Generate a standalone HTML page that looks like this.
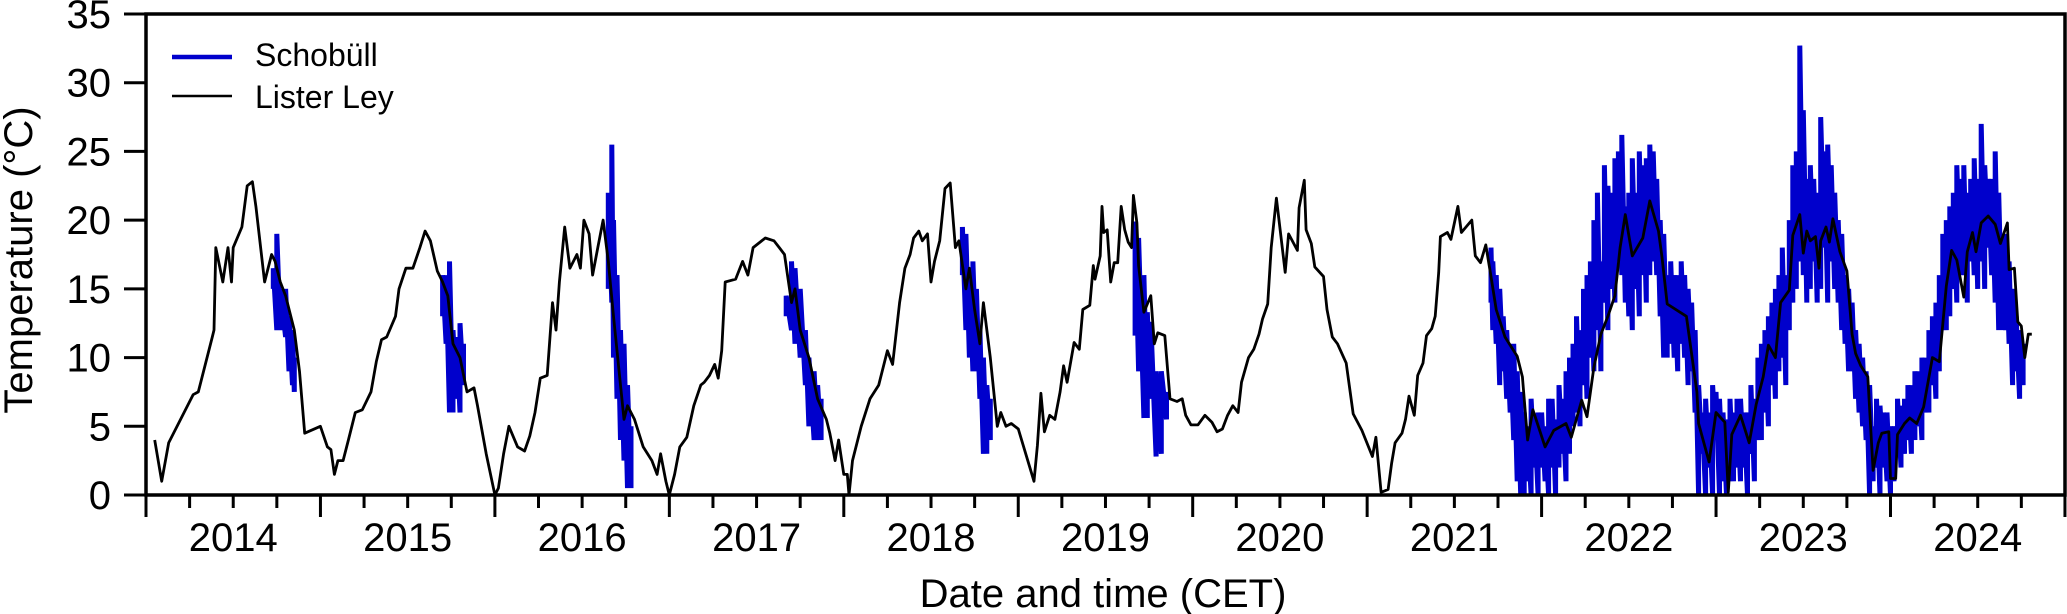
<!DOCTYPE html>
<html><head><meta charset="utf-8"><title>Temperature chart</title>
<style>
html,body{margin:0;padding:0;background:#fff;}
svg{display:block;font-family:"Liberation Sans",Arial,sans-serif;}
</style></head>
<body>
<svg id="chart" width="2067" height="614" viewBox="0 0 2067 614" xmlns="http://www.w3.org/2000/svg">
  <g id="schobuell-series"></g>
  <g id="lister-series"></g>
  <g id="axes"></g>
  <rect x="146" y="14" width="1919" height="481" fill="none" stroke="#000" stroke-width="3.5"/>
  <text transform="translate(32,260) rotate(-90)" text-anchor="middle" font-size="40">Temperature (°C)</text>
  <text x="1103" y="607" text-anchor="middle" font-size="40">Date and time (CET)</text>
  <g>
    <line x1="172" y1="57" x2="232" y2="57" stroke="#0000cc" stroke-width="4.5"/>
    <text x="255" y="66" font-size="32">Schobüll</text>
    <line x1="172" y1="96" x2="232" y2="96" stroke="#000" stroke-width="2.5"/>
    <text x="255" y="108" font-size="32">Lister Ley</text>
  </g>
</svg>
<script>
const yTicks = [0,5,10,15,20,25,30,35];
const years = [2014,2015,2016,2017,2018,2019,2020,2021,2022,2023,2024];

const listerT = [2014.05,2014.09,2014.13,2014.27,2014.3,2014.38,2014.39,2014.40,2014.44,2014.47,2014.49,2014.5,2014.55,2014.58,2014.61,2014.63,2014.68,2014.72,2014.74,2014.77,2014.8,2014.85,2014.88,2014.91,2015.0,2015.04,2015.06,2015.08,2015.1,2015.13,2015.16,2015.2,2015.24,2015.29,2015.32,2015.35,2015.38,2015.43,2015.45,2015.49,2015.53,2015.57,2015.6,2015.63,2015.67,2015.7,2015.73,2015.76,2015.8,2015.84,2015.88,2015.9,2015.95,2016.0,
2016.02,2016.05,2016.08,2016.13,2016.17,2016.2,2016.23,2016.26,2016.3,2016.33,2016.35,2016.37,2016.4,2016.43,2016.47,2016.49,2016.51,2016.54,2016.56,2016.59,2016.62,2016.65,2016.68,2016.72,2016.74,2016.76,2016.8,2016.85,2016.9,2016.93,2016.95,2016.98,2017.0,
2017.03,2017.06,2017.1,2017.14,2017.18,2017.2,2017.23,2017.26,2017.28,2017.3,2017.32,2017.38,2017.42,2017.45,2017.48,2017.55,2017.6,2017.63,2017.66,2017.7,2017.72,2017.75,2017.8,2017.85,2017.9,2017.92,2017.95,2017.97,2018.0,2018.02,2018.03,
2018.05,2018.1,2018.15,2018.2,2018.25,2018.28,2018.32,2018.35,2018.38,2018.4,2018.43,2018.45,2018.48,2018.5,2018.52,2018.55,2018.58,2018.61,2018.64,2018.66,2018.7,2018.72,2018.75,2018.78,2018.8,2018.84,2018.88,2018.9,2018.93,2018.96,2019.0,
2019.09,2019.11,2019.13,2019.15,2019.18,2019.21,2019.24,2019.26,2019.28,2019.32,2019.35,2019.37,2019.41,2019.43,2019.44,2019.47,2019.48,2019.49,2019.51,2019.53,2019.55,2019.57,2019.59,2019.61,2019.63,2019.65,2019.66,2019.68,2019.69,2019.72,2019.76,2019.78,2019.8,2019.84,2019.87,2019.91,2019.94,2019.96,2019.99,2020.03,2020.07,2020.11,2020.14,2020.17,2020.2,2020.23,2020.26,2020.28,2020.32,2020.35,2020.38,2020.4,2020.43,
2020.45,2020.48,2020.53,2020.55,2020.6,2020.61,2020.64,2020.65,2020.68,2020.7,2020.75,2020.77,2020.8,2020.83,2020.88,2020.92,2020.97,2021.03,2021.05,2021.08,2021.12,2021.14,2021.16,2021.2,2021.22,2021.24,2021.27,2021.29,2021.32,2021.34,2021.37,2021.39,2021.41,2021.42,2021.46,2021.48,2021.52,2021.54,2021.6,2021.62,2021.65,2021.68,2021.71,2021.74,2021.79,2021.86,2021.89,2021.92,2021.95,2022.02,2022.07,2022.14,2022.17,2022.23,2022.26,2022.3,
2022.34,2022.38,2022.42,2022.45,2022.48,2022.52,2022.58,2022.62,2022.67,2022.69,2022.72,2022.83,2022.89,2022.9,2022.96,2023.0,2023.05,2023.07,2023.09,2023.14,2023.19,2023.23,2023.27,2023.3,2023.34,2023.37,2023.42,2023.44,2023.48,2023.5,2023.52,2023.54,2023.57,2023.59,2023.6,2023.63,2023.65,2023.67,2023.71,2023.75,2023.78,2023.8,2023.83,2023.87,2023.9,2023.93,2023.95,2023.99,2024.0,2024.03,2024.04,2024.08,2024.11,2024.15,2024.19,2024.24,2024.28,2024.32,2024.35,2024.38,2024.42,2024.44,2024.47,2024.49,2024.52,2024.56,2024.6,2024.63,2024.67,2024.68,2024.71,2024.73,2024.75,2024.77,2024.79,2024.81];
const listerV = [4,1,3.8,7.3,7.5,11.5,12,18,15.5,18,15.5,18,19.5,22.5,22.8,21,15.5,17.5,17,15.5,14.5,12,9,4.5,5,3.5,3.3,1.5,2.5,2.5,4,6,6.2,7.5,9.7,11.3,11.5,13,15,16.5,16.5,18,19.2,18.5,16.3,15.5,14.5,11,10,7.5,7.8,6.5,3,0,
0.5,3,5,3.5,3.2,4.3,6,8.5,8.7,14,12,15.5,19.5,16.5,17.5,16.5,20,19,16,18,20,17,13,8,5.5,6.5,5.5,3.5,2.5,1.5,3,1,0,
1.5,3.5,4.2,6.5,8,8.2,8.7,9.5,8.5,10.5,15.5,15.7,17,16,18,18.7,18.5,18,17.5,14,15,12,10,7,5.5,4.5,2.5,4,1.5,1.5,0,
2.5,5,7,8,10.5,9.5,14,16.5,17.5,18.7,19.2,18.5,19,15.5,17,18.5,22.3,22.7,18,18.5,15,16.5,13.5,11,14,10,5,6,5,5.2,4.8,
1.0,3.6,7.4,4.6,5.8,5.5,7.5,9.4,8.2,11.1,10.6,13.5,13.8,16.7,15.7,17.4,21,19.1,19.3,15.5,16.9,16.9,21.0,19.3,18.4,18.0,21.8,19.8,16.7,13.3,14.5,11.0,11.8,11.6,7.0,6.8,7.0,5.8,5.1,5.1,5.8,5.3,4.6,4.8,5.8,6.5,6.0,8.2,10.0,10.6,11.7,12.8,13.9,
18.0,21.6,16.2,19,17.8,20.9,22.9,19.3,18.3,16.6,15.9,13.5,11.5,11.0,9.6,5.9,4.7,2.8,4.2,0.2,0.4,2.3,3.8,4.5,5.5,7.2,5.8,8.7,9.6,11.6,12.1,13.0,16.2,18.8,19.1,18.6,21,19.1,20.0,17.4,16.9,18.2,15.9,13.5,11.5,10.1,8.6,4.0,6.2,3.5,4.7,5.2,4.2,6.9,5.7,9.3,
11.7,13,14.5,18,20.4,17.4,18.7,21.4,19.2,17.3,13.9,13.0,7.5,5.2,2.4,6.0,5.3,0.2,4.4,5.8,3.8,6.6,8.6,10.9,10.0,14,14.9,18.9,20.4,17.6,19.2,18.5,18.8,16.5,18.5,19.5,18.4,20.1,17.7,16.3,11.7,10.3,9.4,8.6,1.8,3.8,4.5,4.6,1.2,1.2,4.4,5.2,5.6,5.2,6.4,10,9.7,15.2,17.8,17.1,14.4,17.7,19.1,17.7,19.8,20.3,19.7,18.3,19.8,16.4,16.5,12.6,12.3,10,11.7,11.7];

const schT = [2014.73,2014.75,2014.77,2014.8,2014.82,2014.84,2014.85,
2015.7,2015.72,2015.74,2015.76,2015.78,2015.8,2015.82,
2016.65,2016.67,2016.68,2016.7,2016.72,2016.74,2016.76,2016.78,
2017.67,2017.7,2017.72,2017.75,2017.78,2017.8,2017.83,2017.85,2017.87,
2018.68,2018.7,2018.72,2018.74,2018.76,2018.78,2018.8,2018.82,2018.84,
2019.67,2019.69,2019.72,2019.74,2019.76,2019.79,2019.82,2019.85,
2021.71,2021.72,2021.74,2021.76,2021.78,2021.8,2021.82,2021.84,2021.86,2021.88,2021.9,2021.92,2021.94,2021.96,2021.98,2022.0,2022.02,2022.04,2022.06,2022.08,2022.1,2022.12,2022.14,2022.16,2022.18,2022.2,2022.22,2022.24,2022.26,2022.28,2022.3,2022.32,2022.34,2022.36,2022.38,2022.4,2022.42,2022.44,2022.46,2022.48,2022.5,2022.52,2022.54,2022.56,2022.58,2022.6,2022.62,2022.64,2022.66,2022.68,2022.7,2022.72,2022.74,2022.76,2022.78,2022.8,2022.82,2022.84,2022.86,2022.88,2022.9,2022.92,2022.94,2022.96,2022.98,2023.0,2023.02,2023.04,2023.06,2023.08,2023.1,2023.12,2023.14,2023.16,2023.18,2023.2,2023.22,2023.24,2023.26,2023.28,2023.3,2023.32,2023.34,2023.36,2023.38,2023.4,2023.42,2023.44,2023.46,2023.48,2023.5,2023.52,2023.54,2023.56,2023.58,2023.6,2023.62,2023.64,2023.66,2023.68,2023.7,2023.72,2023.74,2023.76,2023.78,2023.8,2023.82,2023.84,2023.86,2023.88,2023.9,2023.92,2023.94,2023.96,2023.98,2024.0,2024.02,2024.04,2024.06,2024.08,2024.1,2024.12,2024.14,2024.16,2024.18,2024.2,2024.22,2024.24,2024.26,2024.28,2024.3,2024.32,2024.34,2024.36,2024.38,2024.4,2024.42,2024.44,2024.46,2024.48,2024.5,2024.52,2024.54,2024.56,2024.58,2024.6,2024.62,2024.64,2024.66,2024.68,2024.7,2024.72,2024.74,2024.76];
const schLo = [15,12,12,11.5,9,8,7.5,
13,11,6,6,7,6,8,
15,14,10,7,4,2.5,0.5,0.5,
13,12,11,10,8,5,4,4,4,
16,12,10,9,9,7,3,3,4,
11.6,9,5.6,5.6,7,2.8,3,5.5,
14,12,11,8,9,7,6,4,1,0,0,1,0,2,0,2,1,0,2,0,2,3,1,3,5,6,5,8,7,10,9,12,9,14,12,15,14,17,16,14,13,12,15,13,16,14,16,17,16,13,10,10,11,10,9,11,10,8,9,6,0,3,0,2,0,4,0,1,0,1,1,2,1,2,0,3,1,4,4,6,5,8,7,9,10,8,12,14,15,17,16,14,15,17,14,15,18,14,17,15,14,12,11,9,9,7,6,5,4,0,1,2,0,2,1,0,1,3,2,3,4,3,4,5,4,6,6,8,7,9,12,12,13,15,14,16,16,14,17,16,15,17,15,18,16,14,12,12,12,11,8,9,7,8];
const schHi = [16.5,19,15,15,13,12,10,
16,16,17,12,11.5,12.5,11,
22,25.5,20,16,12,11,8,5,
14.5,17,16.5,15,12,10,9,8,7,
19.5,19,16,17,15,12,10,8,7,
19.9,18.7,16,13.3,12.6,9,9,7.5,
18,17,16,15,13,12,11,11,9,7.5,6,5,7,5.5,6,6,5,7,7,5.5,8,7,9,10,11,13,12,15,16,17,20,22,17,24,22.5,22,24.5,25,26.2,21,22,24.5,22,25,24,24.5,25.5,25,23,20,19,16,17,16,16,17,16,15,14,12,8,6,7,6,8,7.5,7,6,5.5,7,6,7,7,6,6,8,7,10,11,12,13,14,15,16,18,16,20,24,25,32.7,28,23,24,23,22,27.5,25,25.5,24,22,20,19,16,15,14,12,11,10,9,8,5,7,6.5,6,6,5,5,7,6.5,7,8,8,9,9,10,10,12,13,14,16,19,20,21,22,24,23,24,22,23,24.5,23,27,24,23,23,25,22,19,19,17,15,13,12,11];

const X0 = 146, YW = 174.45, Y0 = 495, PXU = 13.743;
function xScale(t){ return X0 + (t - 2014) * YW; }
function yScale(v){ return Y0 - v * PXU; }
const NS = 'http://www.w3.org/2000/svg';
function mk(tag, attrs, parent){
  const e = document.createElementNS(NS, tag);
  for (const k in attrs) e.setAttribute(k, attrs[k]);
  parent.appendChild(e);
  return e;
}

// axes
const axes = document.getElementById('axes');
yTicks.forEach(v => {
  const y = yScale(v);
  const tk = mk('line', {x1: 124, x2: X0, y1: y, y2: y, stroke: '#000', 'stroke-width': 3}, axes);
  
  
  const lb = mk('text', {x: 111, y: y + 14, 'text-anchor': 'end', 'font-size': 40}, axes);
  lb.textContent = v;
  
  
});
for (let i = 0; i <= years.length; i++) {
  for (let q = 0; q < 4; q++) {
    if (i === years.length && q > 0) break;
    const x = xScale(2014 + i + q * 0.25);
    const tk = mk('line', {x1: x, x2: x, y1: Y0, y2: q === 0 ? 517 : 508, stroke: '#000', 'stroke-width': 3}, axes);
    
    
  }
}
years.forEach(yr => {
  const lb = mk('text', {x: xScale(yr + 0.5), y: 551, 'text-anchor': 'middle', 'font-size': 40}, axes);
  lb.textContent = yr;
  
  
});

// Schobüll (daily range bars joined)
const sg = document.getElementById('schobuell-series');
let d = '';
for (let i = 0; i < schT.length; i++) {
  const x = xScale(schT[i]).toFixed(1);
  const newSeg = i === 0 || schT[i] - schT[i-1] > 0.1;
  d += (newSeg ? 'M' : 'L') + x + ',' + yScale(schLo[i]).toFixed(1) + 'L' + x + ',' + yScale(schHi[i]).toFixed(1);
}
const sp = mk('path', {d: d, fill: 'none', stroke: '#0000cc', 'stroke-width': 5, 'stroke-linejoin': 'miter'}, sg);



// Lister Ley
const lg = document.getElementById('lister-series');
let pts = listerT.map((t, i) => xScale(t).toFixed(1) + ',' + yScale(listerV[i]).toFixed(1)).join(' ');
const lp = mk('polyline', {points: pts, fill: 'none', stroke: '#000', 'stroke-width': 2.8, 'stroke-linejoin': 'round'}, lg);


</script>
</body></html>
